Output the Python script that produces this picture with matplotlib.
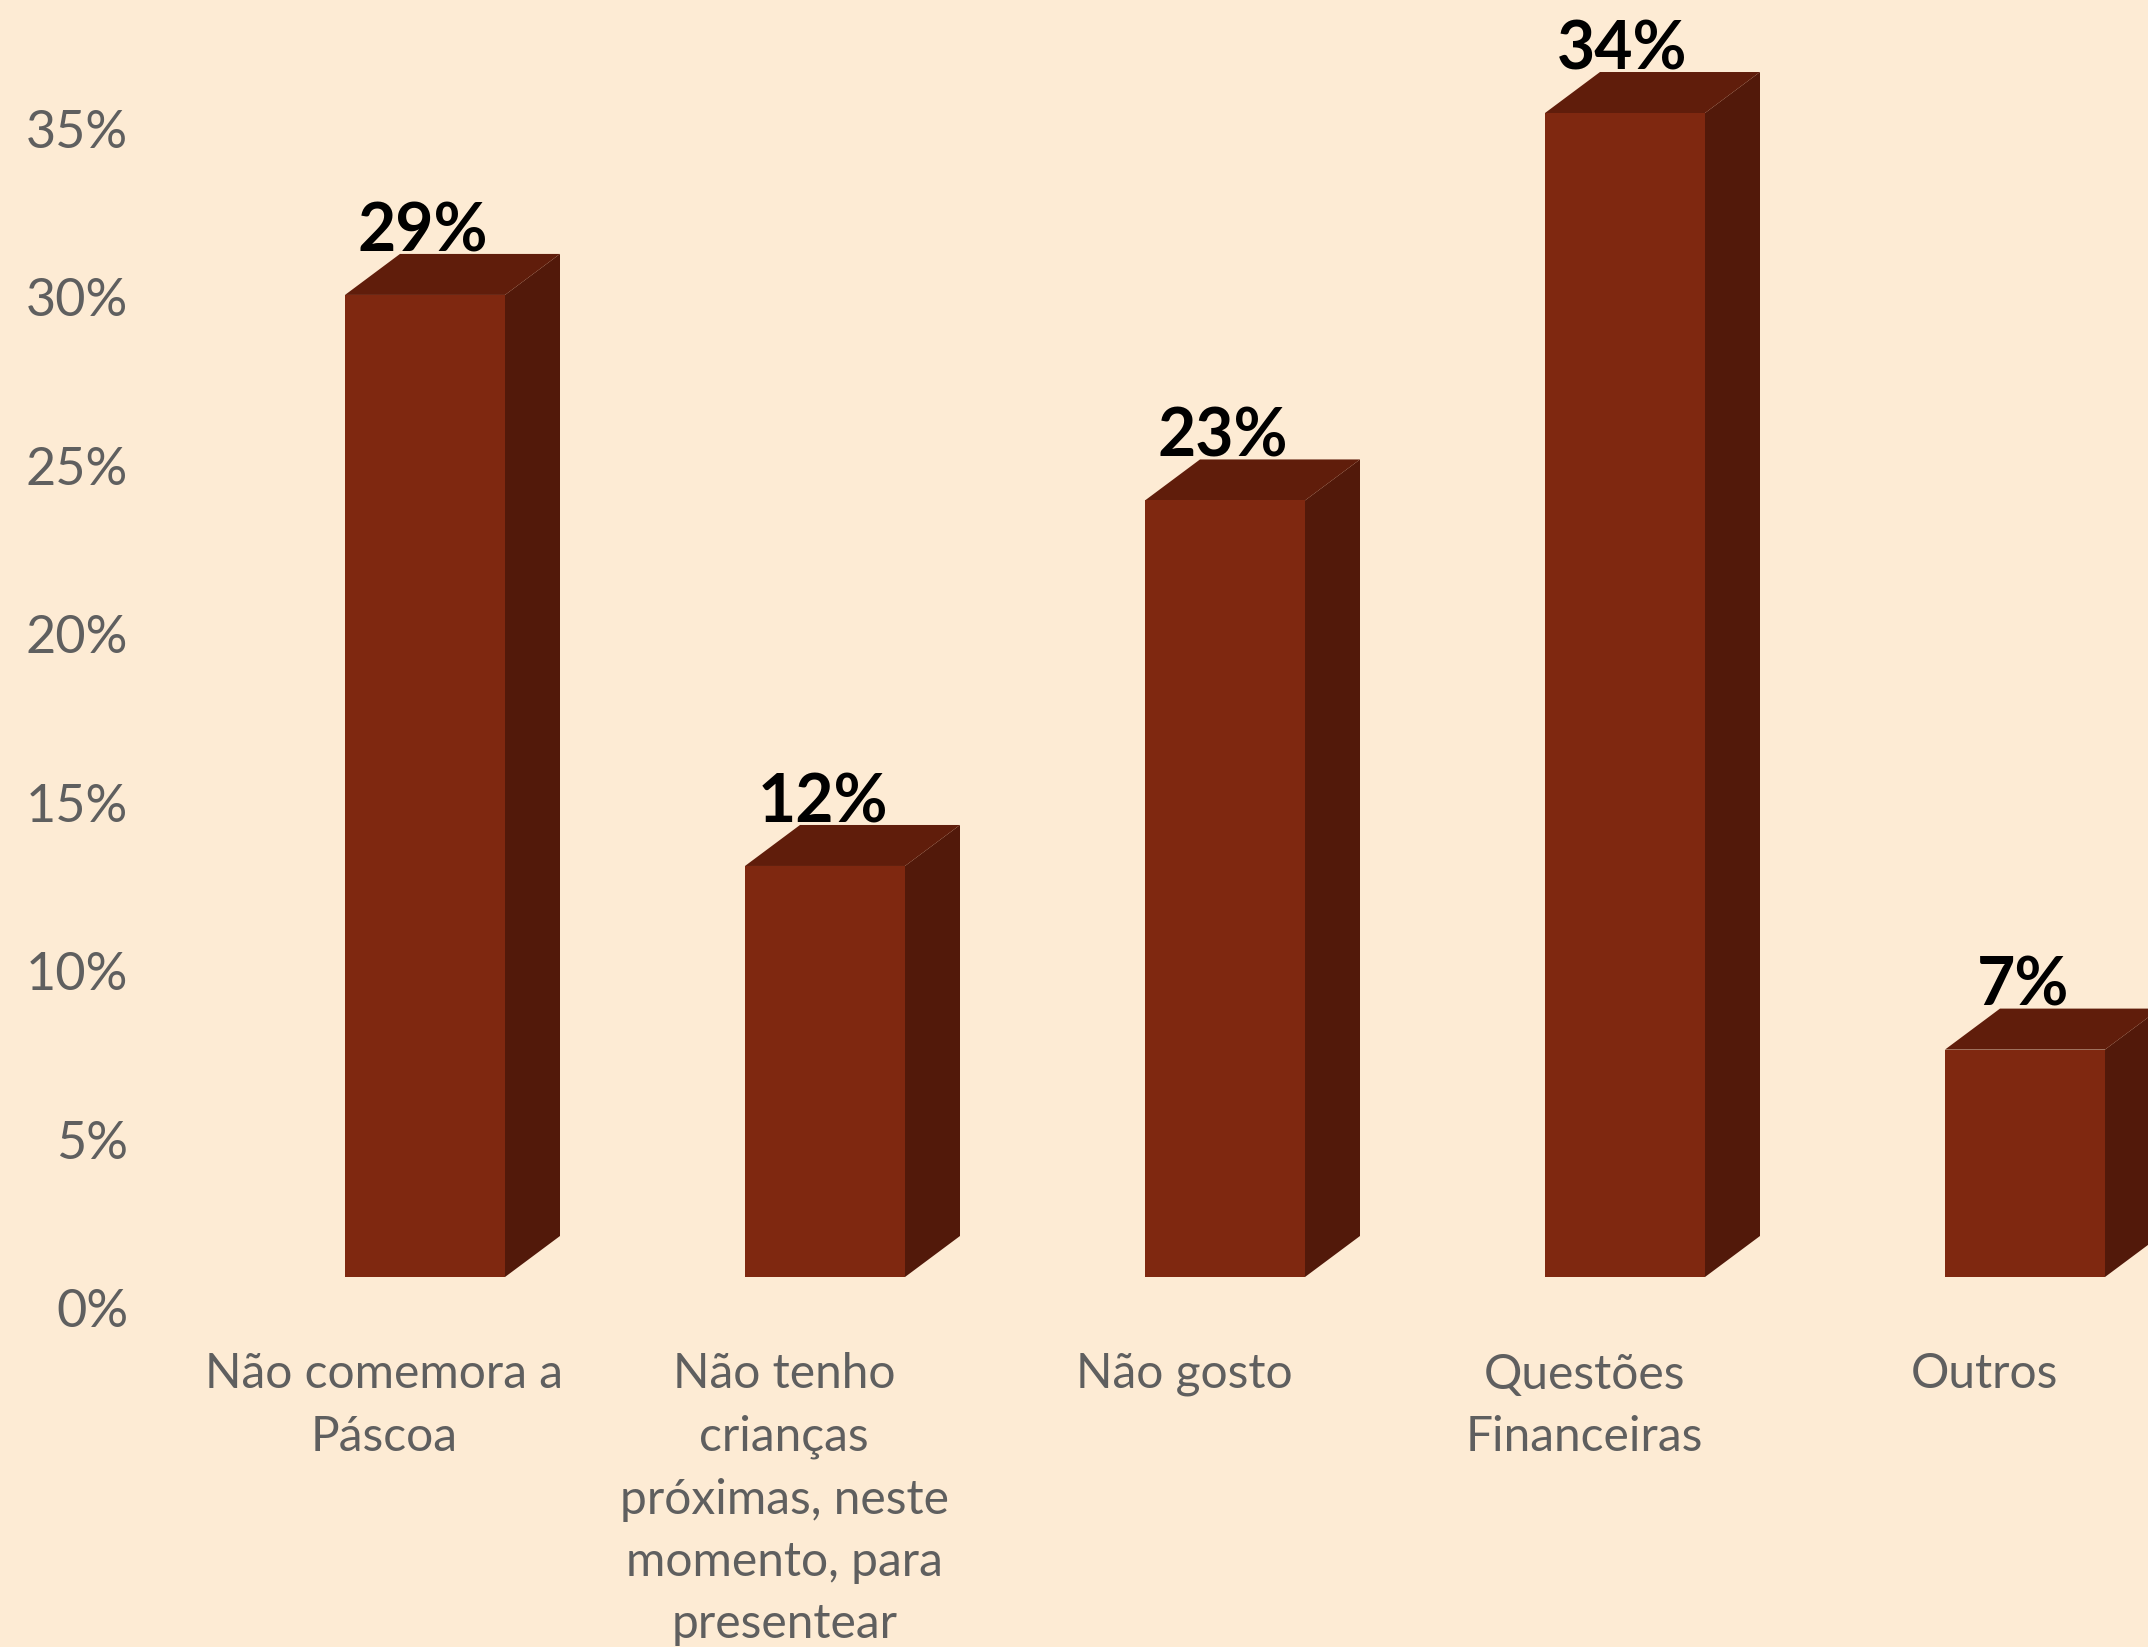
import numpy as np
import matplotlib
matplotlib.use('Agg')
import matplotlib.pyplot as plt
from matplotlib.patches import Polygon

categories = ['Não comemora a\nPáscoa',
              'Não tenho\ncrianças\npróximas, neste\nmomento, para\npresentear',
              'Não gosto',
              'Questões\nFinanceiras',
              'Outros']
values = [29.15, 12.2, 23.05, 34.55, 6.75]
labels = ['29%', '12%', '23%', '34%', '7%']
yticks = [0, 5, 10, 15, 20, 25, 30, 35]

BG = '#FDEBD4'
FRONT = '#7F2810'
TOP = '#601D0B'
SIDE = '#52190A'
GREY = '#5F5F5F'

W, H = 2148, 1647
plt.rcParams['font.family'] = ['Lato', 'DejaVu Sans']

fig = plt.figure(figsize=(W / 100, H / 100), dpi=100, facecolor=BG)

# axes runs from just right of the tick labels down to where the category labels start
left, bottom_px = 135, 1340
ax = fig.add_axes([left / W, (H - bottom_px) / H, 1 - left / W, bottom_px / H], facecolor=BG)

px_x = 400.0     # pixels per category
px_y = 33.69     # pixels per percent
ax.set_xlim((left - 425) / px_x, (W - 425) / px_x)
ax.set_ylim((1308 - bottom_px) / px_y, 1308 / px_y)

x = np.arange(len(values))
width = 160 / px_x
base = 31 / px_y     # front face sits a bit above the zero label
dx = 55 / px_x       # depth of the fake 3d
dy = 41 / px_y

ax.bar(x, values, width=width, bottom=base, color=FRONT, linewidth=0, zorder=3)

for xi, v, lab in zip(x, values, labels):
    x0, x1 = xi - width / 2, xi + width / 2
    y0, y1 = base, base + v
    ax.add_patch(Polygon([(x1, y0), (x1 + dx, y0 + dy), (x1 + dx, y1 + dy), (x1, y1)],
                         facecolor=SIDE, edgecolor='none', zorder=2))
    ax.add_patch(Polygon([(x0, y1), (x0 + dx, y1 + dy), (x1 + dx, y1 + dy), (x1, y1)],
                         facecolor=TOP, edgecolor='none', zorder=2))
    ax.text(xi - 0.006, y1 + dy + 0.08, lab, ha='center', va='baseline', fontsize=47.5,
            fontweight='bold', color='black', clip_on=False, zorder=4)

ax.set_yticks(yticks)
ax.set_yticklabels(['{}%'.format(t) for t in yticks], fontsize=37.5, color=GREY)
ax.set_xticks(x - 0.102)
ax.set_xticklabels(categories, fontsize=34.5, color=GREY, linespacing=1.51, ha='center')
ax.tick_params(axis='both', length=0)
ax.tick_params(axis='y', pad=5)
ax.tick_params(axis='x', pad=9)
for s in ax.spines.values():
    s.set_visible(False)

fig.savefig('out.png', dpi=100, facecolor=BG)
